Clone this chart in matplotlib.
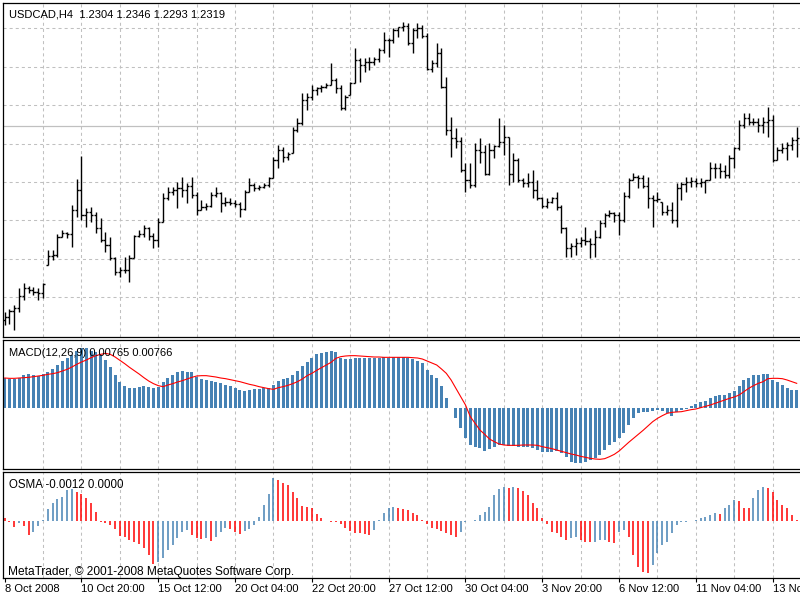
import matplotlib
matplotlib.use("Agg")
import matplotlib.pyplot as plt
import numpy as np

plt.rcParams['font.family'] = ['Liberation Sans', 'DejaVu Sans']
plt.rcParams['lines.scale_dashes'] = False

# ---------------- data ----------------
symbol_title = "USDCAD,H4  1.2304 1.2346 1.2293 1.2319"
macd_title = "MACD(12,26,9) 0.00765 0.00766"
osma_title = "OSMA -0.0012 0.0000"
copyright_text = "MetaTrader, \u00a9 2001-2008 MetaQuotes Software Corp."
date_labels = ["8 Oct 2008", "10 Oct 20:00", "15 Oct 12:00", "20 Oct 04:00",
               "22 Oct 20:00", "27 Oct 12:00", "30 Oct 04:00", "3 Nov 20:00",
               "6 Nov 12:00", "11 Nov 04:00", "13 Nov 20:00"]
date_label_bars = [0, 16, 32, 48, 64, 80, 96, 112, 128, 144, 160]
bid_price = 1.2319

open_ = [1.0379, 1.0409, 1.0469, 1.0499, 1.0619, 1.0699, 1.0679, 1.0659, 1.0649, 1.0929,
         1.1019, 1.1029, 1.1209, 1.1249, 1.1239, 1.1479, 1.1679, 1.1429, 1.1459, 1.1429,
         1.1299, 1.1179, 1.1129, 1.0999, 1.0859, 1.0879, 1.0879, 1.0999, 1.1219, 1.1239,
         1.1299, 1.1219, 1.1179, 1.1359, 1.1599, 1.1659, 1.1679, 1.1699, 1.1679, 1.1719,
         1.1629, 1.1479, 1.1509, 1.1519, 1.1629, 1.1649, 1.1549, 1.1559, 1.1549, 1.1539,
         1.1489, 1.1659, 1.1729, 1.1699, 1.1709, 1.1729, 1.1799, 1.1979, 1.2079, 1.2009,
         1.2049, 1.2279, 1.2349, 1.2579, 1.2609, 1.2679, 1.2699, 1.2709, 1.2729, 1.2779,
         1.2699, 1.2499, 1.2629, 1.2749, 1.2979, 1.2929, 1.2959, 1.2959, 1.2989, 1.3079,
         1.3179, 1.3179, 1.3279, 1.3309, 1.3319, 1.3149, 1.3279, 1.3299, 1.3219, 1.2889,
         1.2949, 1.3049, 1.2709, 1.2279, 1.2199, 1.2169, 1.1879, 1.1779, 1.1729, 1.2079,
         1.2059, 1.1839, 1.2079, 1.2119, 1.2159, 1.2209, 1.1839, 1.1979, 1.1779, 1.1749,
         1.1759, 1.1679, 1.1599, 1.1519, 1.1559, 1.1599, 1.1509, 1.1299, 1.1099, 1.1119,
         1.1149, 1.1179, 1.1169, 1.1139, 1.1209, 1.1349, 1.1429, 1.1449, 1.1429, 1.1379,
         1.1619, 1.1779, 1.1809, 1.1799, 1.1719, 1.1599, 1.1579, 1.1559, 1.1459, 1.1479,
         1.1379, 1.1699, 1.1739, 1.1759, 1.1769, 1.1749, 1.1759, 1.1779, 1.1899, 1.1899,
         1.1869, 1.1829, 1.1999, 1.2099, 1.2329, 1.2399, 1.2359, 1.2359, 1.2329, 1.2359,
         1.2379, 1.1979, 1.2079, 1.2099, 1.2129, 1.2179]

high = [1.0459, 1.0489, 1.0529, 1.0699, 1.0749, 1.0719, 1.0709, 1.0699, 1.0749, 1.1079,
        1.1079, 1.1239, 1.1279, 1.1259, 1.1529, 1.1789, 1.2019, 1.1499, 1.1509, 1.1459,
        1.1399, 1.1259, 1.1209, 1.1009, 1.0909, 1.1009, 1.1029, 1.1229, 1.1279, 1.1329,
        1.1309, 1.1249, 1.1399, 1.1649, 1.1709, 1.1709, 1.1759, 1.1809, 1.1749, 1.1809,
        1.1659, 1.1579, 1.1549, 1.1659, 1.1709, 1.1659, 1.1609, 1.1599, 1.1579, 1.1559,
        1.1679, 1.1799, 1.1749, 1.1729, 1.1749, 1.1809, 1.2009, 1.2129, 1.2109, 1.2059,
        1.2309, 1.2399, 1.2649, 1.2649, 1.2729, 1.2709, 1.2729, 1.2749, 1.2949, 1.2799,
        1.2729, 1.2629, 1.2759, 1.3099, 1.2999, 1.2999, 1.3009, 1.3009, 1.3099, 1.3259,
        1.3199, 1.3299, 1.3309, 1.3359, 1.3349, 1.3299, 1.3349, 1.3329, 1.3249, 1.2979,
        1.3149, 1.3099, 1.2809, 1.2409, 1.2299, 1.2209, 1.1949, 1.1949, 1.2149, 1.2199,
        1.2129, 1.2149, 1.2129, 1.2399, 1.2329, 1.2209, 1.2049, 1.1999, 1.1799, 1.1849,
        1.1879, 1.1779, 1.1609, 1.1599, 1.1609, 1.1659, 1.1529, 1.1309, 1.1149, 1.1199,
        1.1209, 1.1309, 1.1199, 1.1279, 1.1379, 1.1449, 1.1479, 1.1459, 1.1459, 1.1659,
        1.1799, 1.1849, 1.1829, 1.1829, 1.1809, 1.1629, 1.1659, 1.1559, 1.1529, 1.1559,
        1.1749, 1.1759, 1.1809, 1.1809, 1.1799, 1.1799, 1.1779, 1.1959, 1.1949, 1.1949,
        1.1929, 1.2029, 1.2109, 1.2379, 1.2449, 1.2449, 1.2399, 1.2399, 1.2409, 1.2509,
        1.2429, 1.2109, 1.2149, 1.2159, 1.2209, 1.2309]

low = [1.0329, 1.0339, 1.0279, 1.0459, 1.0579, 1.0649, 1.0629, 1.0579, 1.0599, 1.0929,
       1.0979, 1.1009, 1.1209, 1.1199, 1.1109, 1.1409, 1.1379, 1.1309, 1.1359, 1.1249,
       1.1159, 1.1059, 1.0979, 1.0829, 1.0809, 1.0849, 1.0759, 1.0999, 1.1209, 1.1209,
       1.1179, 1.1099, 1.1109, 1.1359, 1.1579, 1.1629, 1.1499, 1.1609, 1.1549, 1.1599,
       1.1429, 1.1479, 1.1479, 1.1509, 1.1609, 1.1459, 1.1519, 1.1529, 1.1509, 1.1409,
       1.1479, 1.1659, 1.1669, 1.1679, 1.1699, 1.1709, 1.1799, 1.1899, 1.1959, 1.1979,
       1.2049, 1.2259, 1.2329, 1.2479, 1.2579, 1.2629, 1.2659, 1.2699, 1.2729, 1.2649,
       1.2479, 1.2479, 1.2629, 1.2749, 1.2759, 1.2859, 1.2879, 1.2929, 1.2959, 1.3049,
       1.3009, 1.3149, 1.3209, 1.3269, 1.3129, 1.3049, 1.3199, 1.3199, 1.2879, 1.2859,
       1.2909, 1.2699, 1.2229, 1.2009, 1.2099, 1.1859, 1.1659, 1.1699, 1.1709, 1.1949,
       1.1829, 1.1829, 1.1999, 1.2109, 1.2029, 1.1729, 1.1759, 1.1759, 1.1709, 1.1709,
       1.1599, 1.1579, 1.1499, 1.1499, 1.1549, 1.1479, 1.1249, 1.1009, 1.1009, 1.1029,
       1.1109, 1.1129, 1.0999, 1.1009, 1.1199, 1.1309, 1.1409, 1.1359, 1.1229, 1.1359,
       1.1599, 1.1779, 1.1699, 1.1699, 1.1499, 1.1309, 1.1559, 1.1429, 1.1429, 1.1349,
       1.1309, 1.1579, 1.1659, 1.1709, 1.1709, 1.1709, 1.1649, 1.1779, 1.1799, 1.1799,
       1.1799, 1.1799, 1.1899, 1.2079, 1.2299, 1.2329, 1.2329, 1.2259, 1.2249, 1.2209,
       1.1959, 1.1979, 1.2049, 1.1979, 1.2079, 1.2009]

close = [1.0409, 1.0469, 1.0499, 1.0619, 1.0699, 1.0679, 1.0659, 1.0649, 1.0739, 1.1019,
         1.1029, 1.1209, 1.1249, 1.1239, 1.1479, 1.1679, 1.1429, 1.1459, 1.1429, 1.1299,
         1.1179, 1.1129, 1.0999, 1.0859, 1.0879, 1.0879, 1.0999, 1.1219, 1.1239, 1.1299,
         1.1219, 1.1179, 1.1359, 1.1599, 1.1659, 1.1679, 1.1699, 1.1679, 1.1719, 1.1629,
         1.1479, 1.1509, 1.1519, 1.1629, 1.1649, 1.1549, 1.1559, 1.1549, 1.1539, 1.1489,
         1.1659, 1.1729, 1.1699, 1.1709, 1.1729, 1.1799, 1.1979, 1.2079, 1.2009, 1.2039,
         1.2279, 1.2349, 1.2579, 1.2609, 1.2679, 1.2699, 1.2709, 1.2729, 1.2779, 1.2699,
         1.2499, 1.2609, 1.2749, 1.2979, 1.2929, 1.2959, 1.2959, 1.2989, 1.3079, 1.3179,
         1.3179, 1.3279, 1.3309, 1.3319, 1.3149, 1.3279, 1.3299, 1.3219, 1.2889, 1.2949,
         1.3049, 1.2709, 1.2279, 1.2199, 1.2169, 1.1879, 1.1779, 1.1729, 1.2079, 1.2059,
         1.1839, 1.2079, 1.2119, 1.2159, 1.2209, 1.1839, 1.1979, 1.1779, 1.1749, 1.1759,
         1.1679, 1.1599, 1.1519, 1.1559, 1.1599, 1.1509, 1.1299, 1.1099, 1.1119, 1.1149,
         1.1179, 1.1169, 1.1139, 1.1209, 1.1349, 1.1429, 1.1449, 1.1429, 1.1379, 1.1619,
         1.1779, 1.1809, 1.1799, 1.1719, 1.1599, 1.1579, 1.1589, 1.1459, 1.1479, 1.1379,
         1.1699, 1.1739, 1.1759, 1.1769, 1.1749, 1.1759, 1.1779, 1.1899, 1.1899, 1.1869,
         1.1829, 1.1999, 1.2099, 1.2329, 1.2399, 1.2359, 1.2359, 1.2329, 1.2359, 1.2379,
         1.1979, 1.2079, 1.2099, 1.2129, 1.2179, 1.2199]

macd = [0.0090, 0.0088, 0.0088, 0.0092, 0.0100, 0.0102, 0.0100, 0.0098, 0.0102, 0.0110,
        0.0118, 0.0130, 0.0142, 0.0152, 0.0160, 0.0172, 0.0182, 0.0182, 0.0172, 0.0170,
        0.0160, 0.0144, 0.0125, 0.0100, 0.0080, 0.0068, 0.0062, 0.0062, 0.0065, 0.0068,
        0.0065, 0.0062, 0.0065, 0.0080, 0.0090, 0.0100, 0.0108, 0.0112, 0.0108, 0.0108,
        0.0095, 0.0088, 0.0085, 0.0082, 0.0080, 0.0075, 0.0070, 0.0068, 0.0062, 0.0055,
        0.0052, 0.0055, 0.0058, 0.0058, 0.0060, 0.0060, 0.0070, 0.0082, 0.0087, 0.0090,
        0.0100, 0.0112, 0.0128, 0.0140, 0.0152, 0.0162, 0.0165, 0.0170, 0.0172, 0.0168,
        0.0152, 0.0148, 0.0148, 0.0152, 0.0152, 0.0152, 0.0152, 0.0152, 0.0152, 0.0155,
        0.0152, 0.0155, 0.0155, 0.0155, 0.0152, 0.0148, 0.0142, 0.0135, 0.0115, 0.0100,
        0.0090, 0.0068, 0.0032, 0.0002, -0.0028, -0.0060, -0.0088, -0.0110, -0.0115, -0.0120,
        -0.0128, -0.0122, -0.0115, -0.0110, -0.0110, -0.0112, -0.0112, -0.0115, -0.0115, -0.0115,
        -0.0120, -0.0125, -0.0130, -0.0130, -0.0130, -0.0128, -0.0135, -0.0145, -0.0160, -0.0165,
        -0.0165, -0.0162, -0.0155, -0.0150, -0.0140, -0.0125, -0.0110, -0.0100, -0.0090, -0.0075,
        -0.0050, -0.0030, -0.0015, -0.0010, -0.0012, -0.0008, -0.0005, -0.0008, -0.0015, -0.0022,
        -0.0012, -0.0005, -0.0002, 0.0008, 0.0012, 0.0018, 0.0022, 0.0030, 0.0037, 0.0040,
        0.0040, 0.0045, 0.0052, 0.0068, 0.0085, 0.0092, 0.0100, 0.0100, 0.0102, 0.0102,
        0.0085, 0.0078, 0.0070, 0.0062, 0.0055, 0.0055]

signal = [0.0091, 0.0090, 0.0090, 0.0091, 0.0092, 0.0093, 0.0095, 0.0097, 0.0099, 0.0102,
          0.0104, 0.0107, 0.0112, 0.0117, 0.0124, 0.0132, 0.0139, 0.0145, 0.0152, 0.0158,
          0.0162, 0.0165, 0.0162, 0.0154, 0.0144, 0.0134, 0.0123, 0.0113, 0.0103, 0.0092,
          0.0082, 0.0074, 0.0068, 0.0065, 0.0070, 0.0074, 0.0079, 0.0083, 0.0088, 0.0093,
          0.0097, 0.0098, 0.0098, 0.0096, 0.0094, 0.0091, 0.0089, 0.0086, 0.0083, 0.0080,
          0.0076, 0.0072, 0.0069, 0.0065, 0.0062, 0.0059, 0.0057, 0.0062, 0.0065, 0.0069,
          0.0074, 0.0080, 0.0088, 0.0098, 0.0105, 0.0114, 0.0122, 0.0130, 0.0138, 0.0150,
          0.0155, 0.0157, 0.0158, 0.0158, 0.0157, 0.0156, 0.0155, 0.0154, 0.0154, 0.0153,
          0.0153, 0.0153, 0.0153, 0.0153, 0.0153, 0.0152, 0.0151, 0.0148, 0.0142, 0.0136,
          0.0130, 0.0118, 0.0105, 0.0085, 0.0060, 0.0035, 0.0010, -0.0025, -0.0045, -0.0065,
          -0.0078, -0.0092, -0.0100, -0.0107, -0.0110, -0.0111, -0.0111, -0.0111, -0.0110, -0.0110,
          -0.0110, -0.0111, -0.0115, -0.0118, -0.0121, -0.0125, -0.0129, -0.0133, -0.0137, -0.0140,
          -0.0144, -0.0147, -0.0150, -0.0152, -0.0153, -0.0151, -0.0145, -0.0138, -0.0128, -0.0115,
          -0.0102, -0.0090, -0.0078, -0.0066, -0.0053, -0.0040, -0.0030, -0.0022, -0.0015, -0.0012,
          -0.0011, -0.0010, -0.0007, -0.0004, -0.0002, 0.0002, 0.0006, 0.0010, 0.0015, 0.0020,
          0.0025, 0.0030, 0.0034, 0.0040, 0.0050, 0.0060, 0.0068, 0.0075, 0.0080, 0.0089,
          0.0090, 0.0090, 0.0089, 0.0085, 0.0080, 0.0075]

osma = [0.0008, -0.0002, -0.0017, -0.0007, -0.0015, -0.0042, -0.0032, -0.0015, 0.0003, 0.0036,
        0.0053, 0.0065, 0.0073, 0.0093, 0.0096, 0.0088, 0.0080, 0.0068, 0.0053, 0.0028,
        -0.0002, -0.0007, -0.0012, -0.0024, -0.0044, -0.0047, -0.0057, -0.0062, -0.0070, -0.0082,
        -0.0102, -0.0130, -0.0122, -0.0112, -0.0087, -0.0072, -0.0050, -0.0032, -0.0027, -0.0042,
        -0.0050, -0.0054, -0.0052, -0.0060, -0.0047, -0.0032, -0.0022, -0.0024, -0.0032, -0.0040,
        -0.0030, -0.0024, -0.0012, 0.0012, 0.0048, 0.0080, 0.0128, 0.0123, 0.0113, 0.0108,
        0.0088, 0.0068, 0.0046, 0.0043, 0.0040, 0.0020, 0.0008, 0.0001, -0.0002, -0.0004,
        -0.0010, -0.0020, -0.0030, -0.0035, -0.0037, -0.0038, -0.0042, -0.0027, 0.0003, 0.0023,
        0.0038, 0.0043, 0.0038, 0.0036, 0.0033, 0.0023, 0.0018, 0.0003, -0.0010, -0.0022,
        -0.0024, -0.0030, -0.0037, -0.0042, -0.0047, -0.0032, -0.0002, 0.0000, 0.0003, 0.0018,
        0.0028, 0.0043, 0.0078, 0.0096, 0.0103, 0.0100, 0.0103, 0.0098, 0.0090, 0.0078,
        0.0053, 0.0038, 0.0008, -0.0010, -0.0032, -0.0037, -0.0047, -0.0057, -0.0050, -0.0047,
        -0.0057, -0.0062, -0.0064, -0.0062, -0.0057, -0.0056, -0.0062, -0.0067, -0.0032, -0.0027,
        -0.0047, -0.0102, -0.0137, -0.0154, -0.0155, -0.0132, -0.0097, -0.0072, -0.0062, -0.0037,
        -0.0012, -0.0004, -0.0002, -0.0001, 0.0003, 0.0008, 0.0013, 0.0018, 0.0023, 0.0021,
        0.0038, 0.0048, 0.0063, 0.0060, 0.0040, 0.0038, 0.0068, 0.0093, 0.0103, 0.0100,
        0.0086, 0.0063, 0.0048, 0.0038, 0.0018, 0.0003]

# ---------------- layout ----------------
W, H = 800, 600
BAR_PX = 4.8          # pixels per bar
X0 = -0.354           # bar coordinate at the left frame
n = len(close)
x = np.arange(n)

fig = plt.figure(figsize=(W / 100, H / 100), dpi=100)
fig.patch.set_facecolor('white')

GRID_C = '#C0C0C0'
DASH = (0, (2.2, 2.2))


def add_panel(top, bottom):
    ax = fig.add_axes([3 / W, 1 - bottom / H, 801 / W, (bottom - top) / H])
    ax.set_xlim(X0, X0 + 801 / BAR_PX)
    ax.set_facecolor('white')
    for s in ax.spines.values():
        s.set_linewidth(0.9)
        s.set_color('black')
    ax.spines['right'].set_visible(False)
    ax.tick_params(left=False, labelleft=False, bottom=False, labelbottom=False)
    ax.vlines(np.arange(8, n, 8), 0, 1, transform=ax.get_xaxis_transform(),
              colors=GRID_C, linewidth=0.75, linestyles=DASH, zorder=0)
    return ax


ax1 = add_panel(3, 337)
ax2 = add_panel(340, 469)
ax3 = add_panel(472, 578)

# ---- main price panel ----
ax1.set_ylim(1.0209, 1.3549)
price_grid = [1.3296, 1.2912, 1.2528, 1.2144, 1.1760, 1.1376, 1.0992, 1.0608]
ax1.hlines(price_grid, 0, 1, transform=ax1.get_yaxis_transform(),
           colors=GRID_C, linewidth=0.75, linestyles=DASH, zorder=0)
ax1.axhline(bid_price, color='#C0C0C0', linewidth=0.9, zorder=1)
ax1.vlines(x, low, high, colors='black', linewidth=1.0, zorder=3)
ax1.hlines(open_, x - 0.45, x, colors='black', linewidth=1.0, zorder=3)
ax1.hlines(close, x, x + 0.45, colors='black', linewidth=1.0, zorder=3)

# ---- MACD panel ----
ax2.set_ylim(-0.0182, 0.0205)
ax2.bar(x, macd, width=0.62, color='#4682B4', linewidth=0, zorder=2)
ax2.plot(x, signal, color='#FF0000', linewidth=0.8, zorder=3)

# ---- OSMA panel ----
ax3.set_ylim(-0.0171, 0.0147)
osma_colors = ['#FF0000' if (i == 0 or osma[i] <= osma[i - 1]) else '#4682B4'
               for i in range(n)]
ax3.vlines(x, 0, osma, colors=osma_colors, linewidth=1.1, zorder=2)

ax3.set_xticks(date_label_bars)
ax3.set_xticklabels(date_labels, ha='left', fontsize=8)
ax3.tick_params(axis='x', bottom=True, labelbottom=True, direction='out',
                length=3.0, width=0.8, pad=1.6, color='black', labelcolor='black')

# ---- texts ----
fig.text(9 / W, 1 - 17.5 / H, symbol_title, fontsize=8, va='baseline', ha='left')
fig.text(9 / W, 1 - 356.5 / H, macd_title, fontsize=8, va='baseline', ha='left', zorder=10)
fig.text(9 / W, 1 - 487.5 / H, osma_title, fontsize=8.3, va='baseline', ha='left')
fig.text(8 / W, 1 - 575 / H, copyright_text, fontsize=8.6, va='baseline', ha='left')

fig.savefig('out.png', dpi=100)
